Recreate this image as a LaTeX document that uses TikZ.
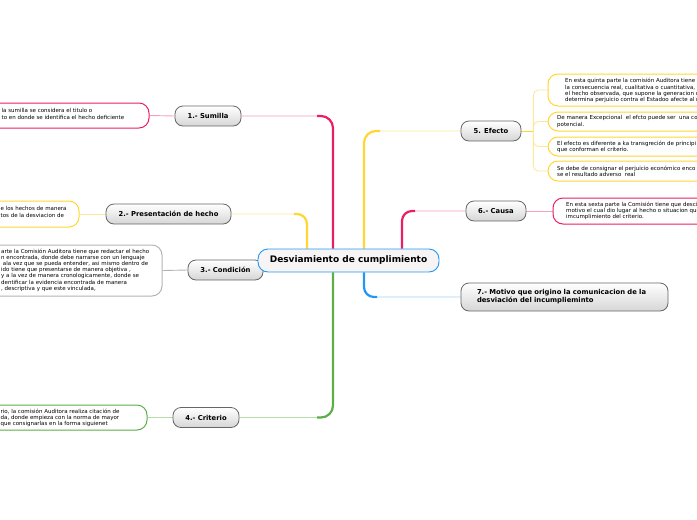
\documentclass[tikz,border=0pt]{standalone}
\usepackage{fontspec}
\setmainfont{DejaVu Sans}
\usetikzlibrary{calc}
\definecolor{pinkd}{HTML}{E91E63}
\definecolor{pinkl}{HTML}{F4A0BE}
\definecolor{yeld}{HTML}{FFD633}
\definecolor{yell}{HTML}{FFE79A}
\definecolor{greend}{HTML}{5DAF45}
\definecolor{greenl}{HTML}{B8DEAB}
\definecolor{blued}{HTML}{2196F3}
\definecolor{bluel}{HTML}{9FD0F6}
\definecolor{grayl}{HTML}{B4B4B4}
\definecolor{centfill}{HTML}{F6F4F4}
\pgfdeclarelayer{bg}
\pgfsetlayers{bg,main}
\tikzset{
  topic/.style={draw=black!60, line width=0.8pt, rounded corners=8pt, top color=white, bottom color=black!16,
    font=\fontsize{6.8}{8.2}\selectfont\bfseries, minimum height=20, inner sep=0pt},
  central/.style={draw=blued, line width=0.9pt, rounded corners=10pt, fill=centfill,
    font=\fontsize{9}{11}\selectfont\bfseries, minimum height=23, minimum width=181, inner sep=0pt},
  notebox/.style={line width=1pt, rounded corners=10pt, fill=white, inner sep=0pt},
  notetext/.style={font=\fontsize{5.5}{6.2}\selectfont, align=left, anchor=west, inner sep=0pt},
  thinline/.style={line width=0.9pt},
  thickline/.style={line width=2.2pt},
}
\begin{document}
\begin{tikzpicture}[x=1pt,y=-1pt]
\useasboundingbox (0,0) rectangle (697,520);
\clip (0,0) rectangle (697,520);

% topics
\node[topic, minimum width=66] (s1) at (208,116) {1.- Sumilla};
\node[topic, minimum width=125] (s2) at (168.5,214) {2.- Presentación de hecho};
\node[topic, minimum width=75] (s3) at (225.5,270) {3.- Condición};
\node[topic, minimum width=66] (s4) at (206,417.5) {4.- Criterio};
\node[topic, minimum width=60] (s5) at (491,131) {5. Efecto};
\node[topic, minimum width=60] (s6) at (496,211) {6.- Causa};
\node[topic, minimum width=207, minimum height=28, text width=175, align=left] (s7) at (564.5,297)
  {7.- Motivo que origino la comunicacion de la desviación del incumplieminto};

% central
\node[central] (c) at (348.5,260.5) {Desviamiento de cumplimiento};

% note boxes
\node[notebox, draw=pinkd, minimum width=209, minimum height=25] (s1n) at (44.5,115.5) {};
\node[notebox, draw=yeld, minimum width=139, minimum height=26] (s2n) at (9.5,214) {};
\node[notebox, draw=grayl, minimum width=222, minimum height=51] (s3n) at (51,270.5) {};
\node[notebox, draw=greend, minimum width=207, minimum height=25] (s4n) at (43.5,417.5) {};
\node[notebox, draw=yeld, minimum width=212, minimum height=32] (e1n) at (654,90) {};
\node[notebox, draw=yeld, minimum width=212, minimum height=19] (e2n) at (654,121.5) {};
\node[notebox, draw=yeld, minimum width=212, minimum height=19] (e3n) at (654,146.5) {};
\node[notebox, draw=yeld, minimum width=212, minimum height=20] (e4n) at (654,171) {};
\node[notebox, draw=pinkd, minimum width=207, minimum height=26] (c6n) at (656.5,211) {};

% note texts
\node[notetext] (s1t) at (1.5,114) {la sumilla se considera el titulo o\\to en donde se identifica el hecho deficiente};
\node[notetext] (s2t) at (0.5,212) {e los hechos de manera\\tos de la desviacion de};
\node[notetext] (s3t) at (1,270) {arte la Comisión Auditora tiene que redactar el hecho\\n encontrada, donde debe narrarse con un lenguaje\\ \ ala vez que se pueda entender, asi mismo dentro de\\ido tiene que presentarse de manera objetiva ,\\y a la vez de manera cronologicamente, donde se\\dentificar la evidencia encontrada de manera\\, descriptiva y que este vinculada,};
\node[notetext] (s4t) at (0.5,418) {rio, la comisión Auditora realiza citación de\\da, donde empieza con la norma de mayor\\que consignarlas en la forma siguienet};
\node[notetext] (e1t) at (565,90.5) {En esta quinta parte la comisión Auditora tiene e\\la consecuencia real, cualitativa o cuantitativa, c\\el hecho observada, que supone la generacion d\\determina perjuicio contra el Estadoo afecte al r};
\node[notetext] (e2t) at (557,121.5) {De manera Excepcional \ el efcto puede ser \ una co\\potencial.};
\node[notetext] (e3t) at (557,146.5) {El efecto es diferente a ka transgreción de principi\\que conforman el criterio.};
\node[notetext] (e4t) at (557,171) {Se debe de consignar el perjuicio económico enco\\se el resultado adverso \ real};
\node[notetext] (c6t) at (566,211) {En esta sexta parte la Comisión tiene que desci\\motivo el cual dio lugar al hecho o situacion que\\imcumplimiento del criterio.};

% connectors
\begin{pgfonlayer}{bg}
\coordinate (tp) at ($(c.north)+(-15.5,0)$);
\coordinate (ty) at ($(c.north)+(-41.5,0)$);
\coordinate (tg) at ($(c.south)+(-15.5,0)$);
\coordinate (tye) at ($(c.north)+(15.5,0)$);
\coordinate (tpc) at ($(c.north)+(53.5,0)$);
\coordinate (tb) at ($(c.south)+(15.5,0)$);
% sumilla
\draw[pinkl, thinline, rounded corners=12] (tp) |- (s1.east);
\draw[pinkd, thickline, rounded corners=12] (tp) |- ($(tp|-s1.east)+(-16,0)$);
% presentacion
\draw[yell, thinline, rounded corners=10] (ty) |- (s2.east);
\draw[yeld, thickline, rounded corners=10] (ty) |- ($(ty|-s2.east)+(-13,0)$);
% criterio
\draw[greenl, thinline, rounded corners=12] (tg) |- (s4.east);
\draw[greend, thickline, rounded corners=12] (tg) |- ($(tg|-s4.east)+(-16,0)$);
% efecto
\draw[yell, thinline, rounded corners=12] (tye) |- (s5.west);
\draw[yeld, thickline, rounded corners=12] (tye) |- ($(tye|-s5.west)+(16,0)$);
% causa
\draw[pinkl, thinline, rounded corners=10] (tpc) |- (s6.west);
\draw[pinkd, thickline, rounded corners=10] (tpc) |- ($(tpc|-s6.west)+(13,0)$);
% motivo
\draw[bluel, thinline, rounded corners=10] (tb) |- (s7.west);
\draw[blued, thickline, rounded corners=10] (tb) |- ($(tb|-s7.west)+(13,0)$);
% topic to notes
\draw[pinkl, thinline] (s1.west) -- (s1n.east);
\draw[yell, thinline] (s2.west) -- (s2n.east);
\draw[grayl, thinline] (s3.west) -- (s3n.east);
\draw[greenl, thinline] (s4.west) -- (s4n.east);
\draw[pinkl, thinline] (s6.east) -- (c6n.west);
\draw[yeld, thinline] (s5.east) -- ++(12,0) coordinate (eb);
\draw[yell, thinline, rounded corners=5] (eb) |- (e1n.west);
\draw[yell, thinline, rounded corners=5] (eb) |- (e2n.west);
\draw[yell, thinline, rounded corners=5] (eb) |- (e3n.west);
\draw[yell, thinline, rounded corners=5] (eb) |- (e4n.west);
\end{pgfonlayer}
\end{tikzpicture}
\end{document}
